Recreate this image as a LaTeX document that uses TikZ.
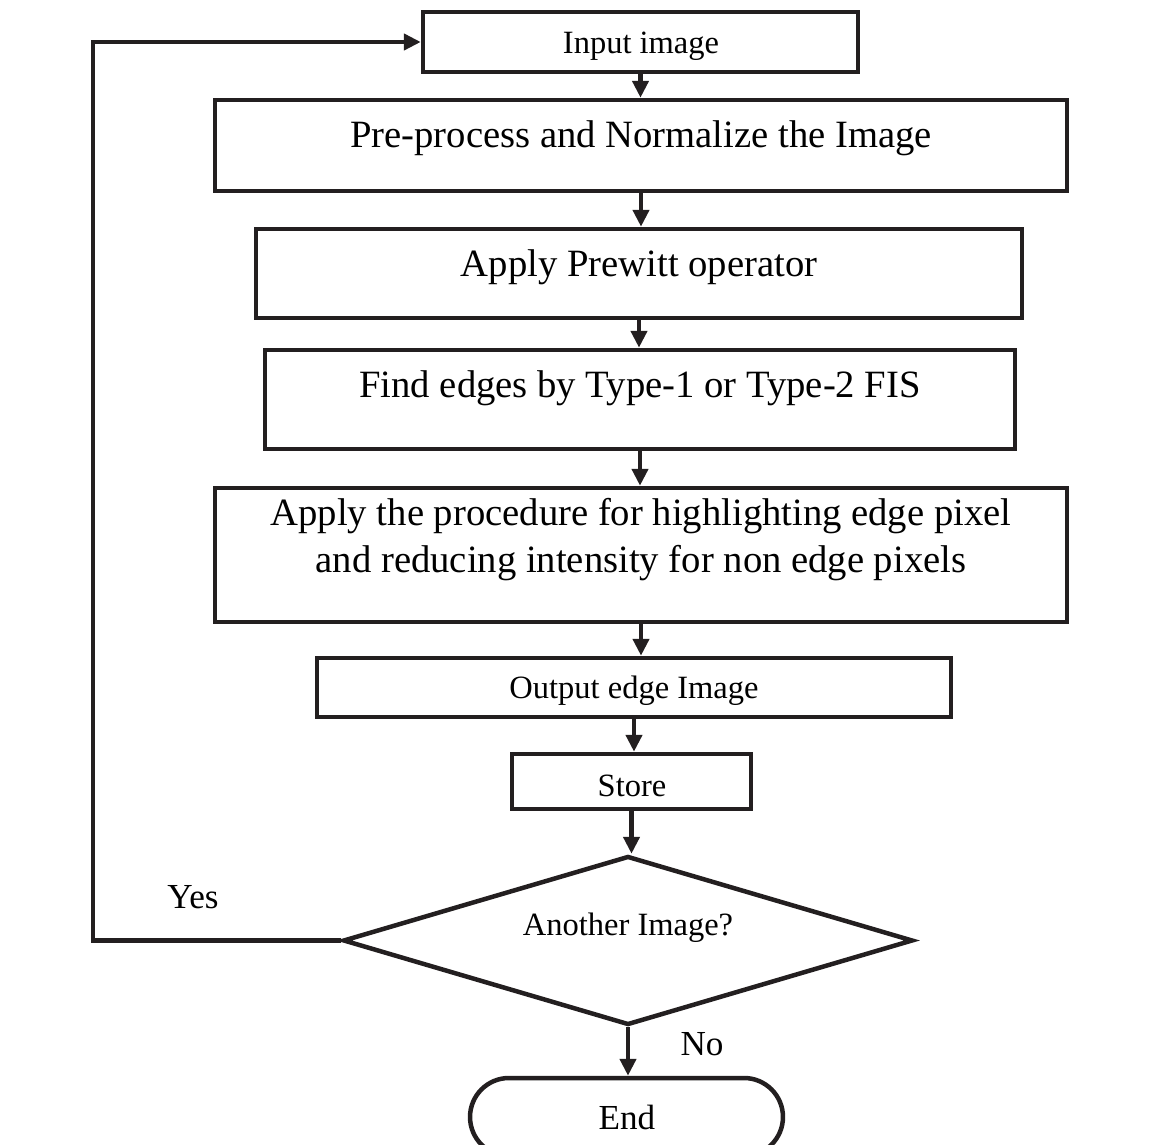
\documentclass[tikz,border=0pt]{standalone}
\usepackage{fontspec}
\setmainfont{Liberation Serif}
\usetikzlibrary{shapes.geometric,shapes.misc,arrows.meta}
\definecolor{inkline}{RGB}{35,31,32}

\begin{document}
\begin{tikzpicture}[x=0.02cm,y=-0.02cm,
    stepbox/.style={draw=inkline, line width=0.09cm, rectangle, inner sep=0pt},
    bigtext/.style={font=\fontsize{22}{26.5}\selectfont, anchor=base, inner sep=0pt},
    midtext/.style={font=\fontsize{20}{24}\selectfont, anchor=base, inner sep=0pt},
    smalltext/.style={font=\fontsize{18.5}{22}\selectfont, anchor=base, inner sep=0pt},
    flow/.style={draw=inkline, line width=0.095cm, -{Triangle[length=0.34cm,width=0.32cm]}}]

    \useasboundingbox (0,0) rectangle (1154,1145);

    % Draw Process Boxes
    \node[stepbox, minimum width=8.7cm,  minimum height=1.2cm]  (inbox)  at (640.5,42) {};
    \node[stepbox, minimum width=17.04cm, minimum height=1.82cm] (prebox) at (641,145.5) {};
    \node[stepbox, minimum width=15.32cm, minimum height=1.78cm] (prewbox) at (639,273.5) {};
    \node[stepbox, minimum width=15cm,   minimum height=1.98cm] (fisbox) at (640,399.5) {};
    \node[stepbox, minimum width=17.04cm, minimum height=2.68cm] (procbox) at (641,555) {};
    \node[stepbox, minimum width=12.68cm, minimum height=1.18cm] (outbox) at (634,687.5) {};
    \node[stepbox, minimum width=4.78cm, minimum height=1.1cm]  (storebox) at (631.5,781.5) {};

    % Draw Decision and End
    \node[stepbox, diamond, minimum width=11.4cm, minimum height=3.38cm] (dec) at (628,940.5) {};
    \node[stepbox, rounded rectangle, minimum width=6.26cm, minimum height=1.56cm] (endbox) at (626.5,1117) {};

    % Box Labels
    \node[smalltext] (in-t)    at (641,54)  {Input image};
    \node[bigtext]   (pre-t)   at (641,148) {Pre-process and Normalize the Image};
    \node[bigtext]   (prew-t)  at (639,277) {Apply Prewitt operator};
    \node[bigtext]   (fis-t)   at (640,398) {Find edges by Type-1 or Type-2 FIS};
    \node[bigtext]   (proc-t1) at (641,526) {Apply the procedure for highlighting edge pixel};
    \node[bigtext]   (proc-t2) at (641,573) {and reducing intensity for non edge pixels};
    \node[smalltext] (out-t)   at (634,699) {Output edge Image};
    \node[smalltext] (store-t) at (632,796) {Store};
    \node[smalltext] (dec-t)   at (628,935) {Another Image?};
    \node[midtext]   (end-t)   at (627,1129) {End};

    % -- branch labels
    \node[midtext] (yes-t) at (193,908)  {Yes};
    \node[midtext] (no-t)  at (702,1055) {No};

    % Draw Arrows
    \draw[flow] (inbox.south)    -- (inbox.south |- prebox.north);
    \draw[flow] (prebox.south)   -- (prebox.south |- prewbox.north);
    \draw[flow] (prewbox.south)  -- (prewbox.south |- fisbox.north);
    \draw[flow] (fisbox.south)   -- (fisbox.south |- procbox.north);
    \draw[flow] (procbox.south)  -- (procbox.south |- outbox.north);
    \draw[flow] (outbox.south)   -- (outbox.south |- storebox.north);
    \draw[flow] (storebox.south) -- (storebox.south |- dec.north);
    \draw[flow] (dec.south)      -- (dec.south |- endbox.north);

    % -- loop back on Yes
    \coordinate (back) at (93,0);
    \draw[flow] (dec.west) -- (back |- dec.west) |- (inbox.west);
\end{tikzpicture}
\end{document}
